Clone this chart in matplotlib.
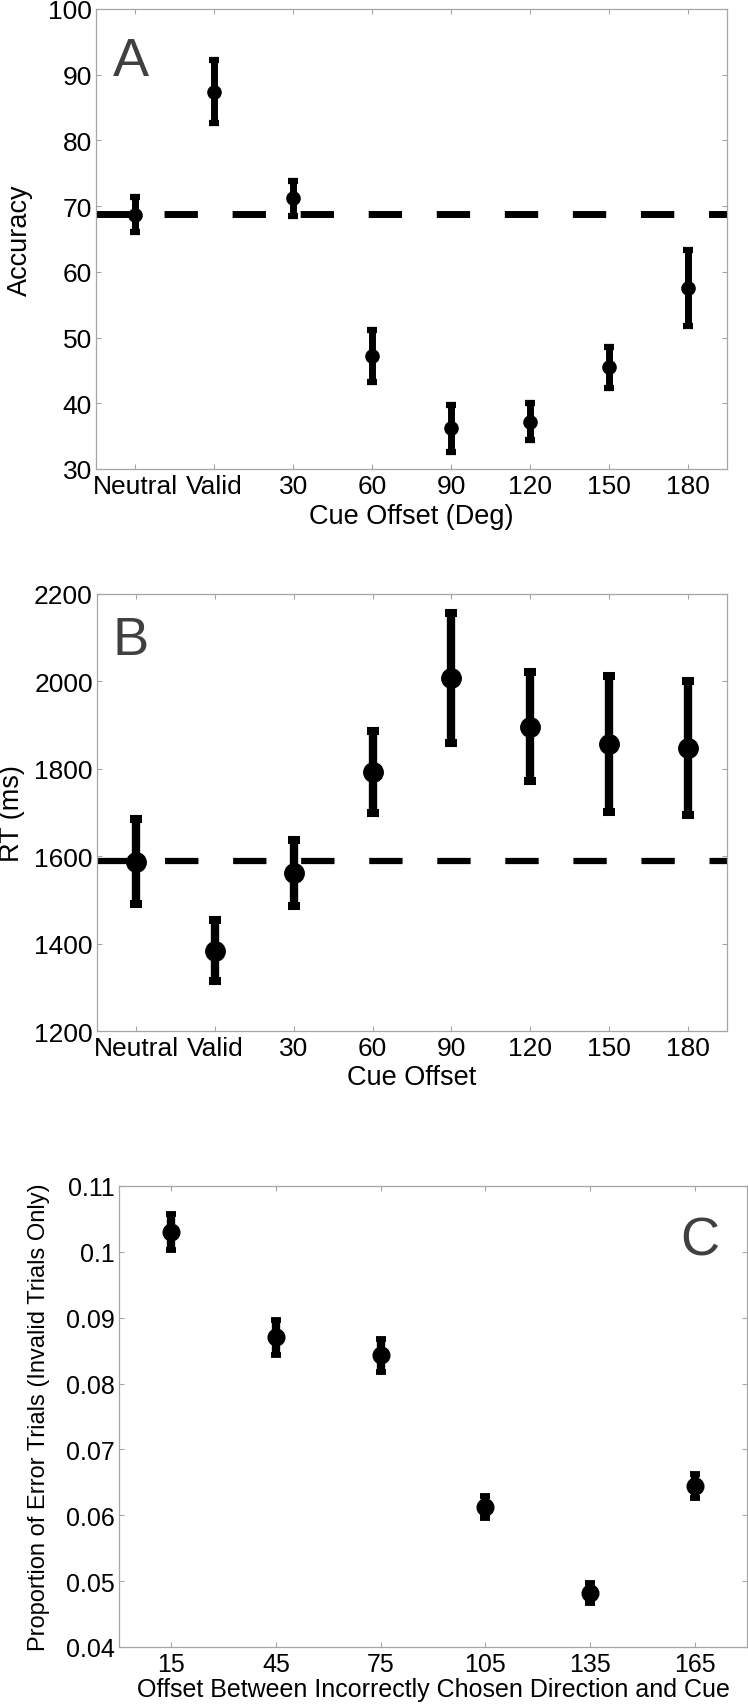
import matplotlib
matplotlib.use("Agg")
import matplotlib.pyplot as plt
import numpy as np

plt.rcParams['font.family'] = ['Liberation Sans', 'DejaVu Sans']
plt.rcParams['lines.scale_dashes'] = False

# ---- Panel A data ----
a_labels = ['Neutral', 'Valid', '30', '60', '90', '120', '150', '180']
a_mean = [68.7, 87.4, 71.2, 47.2, 36.2, 37.2, 45.5, 57.6]
a_err = [2.7, 4.8, 2.7, 3.9, 3.6, 2.8, 3.1, 5.8]
a_ref = 68.8

# ---- Panel B data ----
b_labels = ['Neutral', 'Valid', '30', '60', '90', '120', '150', '180']
b_mean = [1587, 1384, 1562, 1792, 2008, 1896, 1857, 1848]
b_err = [97, 69, 76, 94, 148, 125, 155, 153]
b_ref = 1588

# ---- Panel C data ----
c_offsets = [15, 45, 75, 105, 135, 165]
c_mean = [0.1030, 0.0870, 0.0843, 0.0613, 0.0482, 0.0645]
c_err = [0.0027, 0.0027, 0.0025, 0.0017, 0.0015, 0.0018]
c_yticks = [0.04, 0.05, 0.06, 0.07, 0.08, 0.09, 0.10, 0.11]
c_yticklabels = ['0.04', '0.05', '0.06', '0.07', '0.08', '0.09', '0.1', '0.11']

W, H = 748, 1708
fig = plt.figure(figsize=(W / 100, H / 100), dpi=100)

def px_axes(left, top, right, bottom):
    return fig.add_axes([left / W, 1 - bottom / H, (right - left) / W, (bottom - top) / H])

axA = px_axes(96, 10, 727, 470)
axB = px_axes(97, 595, 727, 1032)
axC = px_axes(119, 1187, 747, 1648)

spine_col = '#a6a6a6'
letter_col = '#404040'

def style(ax, fs):
    for s in ax.spines.values():
        s.set_color(spine_col)
        s.set_linewidth(0.9)
    ax.tick_params(direction='in', length=3.6, width=0.8, color=spine_col,
                   top=True, right=True, labelsize=fs, pad=3)
    ax.tick_params(axis='x', pad=3.5)

# Panel A
xa = np.arange(1, len(a_labels) + 1)
axA.axhline(a_ref, color='black', lw=5, dashes=(24, 25), dash_capstyle='butt', zorder=2)
axA.errorbar(xa, a_mean, yerr=a_err, fmt='o', color='black', ms=9.5, elinewidth=5,
             capsize=3.8, capthick=4.5, zorder=3)
axA.set_xlim(0.5, 8.5)
axA.set_ylim(30, 100)
axA.set_yticks(range(30, 101, 10))
axA.set_xticks(xa)
axA.set_xticklabels(a_labels)
style(axA, 19)
axA.set_ylabel('Accuracy', fontsize=19.5)
axA.yaxis.set_label_coords(-0.100, 0.5)
axA.set_xlabel('Cue Offset (Deg)', fontsize=19.5)
axA.xaxis.set_label_coords(0.5, -0.073)
axA.text(0.055, 0.857, 'A', transform=axA.transAxes, fontsize=39, color=letter_col,
         ha='center', va='baseline')

# Panel B
xb = np.arange(1, len(b_labels) + 1)
axB.axhline(b_ref, color='black', lw=4.5, dashes=(24, 25), dash_capstyle='butt', zorder=2)
axB.errorbar(xb, b_mean, yerr=b_err, fmt='o', color='black', ms=14, elinewidth=6,
             capsize=4.3, capthick=5.8, zorder=3)
axB.set_xlim(0.5, 8.5)
axB.set_ylim(1200, 2200)
axB.set_yticks(range(1200, 2201, 200))
axB.set_xticks(xb)
axB.set_xticklabels(b_labels)
style(axB, 19)
axB.set_ylabel('RT (ms)', fontsize=19.5)
axB.yaxis.set_label_coords(-0.115, 0.5)
axB.set_xlabel('Cue Offset', fontsize=19.5)
axB.xaxis.set_label_coords(0.5, -0.0755)
axB.text(0.054, 0.863, 'B', transform=axB.transAxes, fontsize=39, color=letter_col,
         ha='center', va='baseline')

# Panel C
axC.errorbar(c_offsets, c_mean, yerr=c_err, fmt='o', color='black', ms=12, elinewidth=6,
             capsize=3.8, capthick=4.2, zorder=3)
axC.set_xlim(0, 180)
axC.set_ylim(0.04, 0.11)
axC.set_yticks(c_yticks)
axC.set_yticklabels(c_yticklabels)
axC.set_xticks(c_offsets)
style(axC, 18)
axC.set_ylabel('Proportion of Error Trials (Invalid Trials Only)', fontsize=17)
axC.yaxis.set_label_coords(-0.110, 0.5)
axC.set_xlabel('Offset Between Incorrectly Chosen Direction and Cue', fontsize=18)
axC.xaxis.set_label_coords(0.5, -0.065)
axC.text(0.925, 0.852, 'C', transform=axC.transAxes, fontsize=39, color=letter_col,
         ha='center', va='baseline')

fig.savefig('out.png', dpi=100)
